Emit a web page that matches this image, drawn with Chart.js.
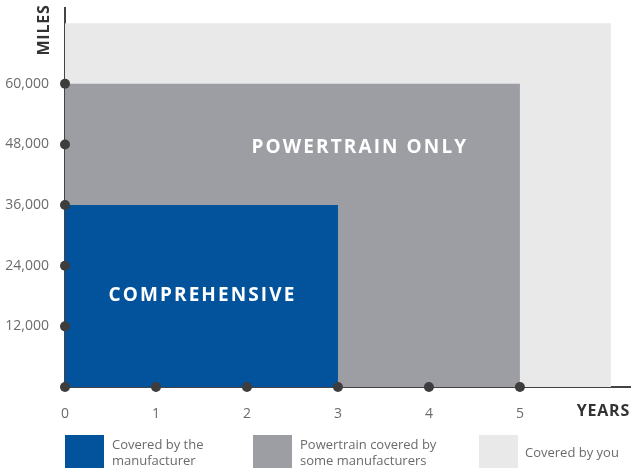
<!DOCTYPE html>
<html>
<head>
<meta charset="utf-8">
<script src="https://cdn.jsdelivr.net/npm/chart.js@4"></script>
<style>
  body { margin: 0; background: #fff; }
  #wrap { position: relative; width: 635px; height: 468px; overflow: hidden; }
  .lg { position: absolute; top: 435px; height: 33px; font: 13px "Open Sans", sans-serif; color: #6b6b6b; line-height: 16px; }
  .lg .box { position: absolute; left: 0; top: 0; width: 39px; height: 33px; }
  .lg .txt { position: absolute; top: 50%; transform: translateY(-50%); white-space: nowrap; }
</style>
</head>
<body>
<div id="wrap">
  <canvas id="warrantyChart" width="635" height="468"></canvas>
</div>
<script>
// Dados do gráfico
const seriesNames = ['Covered by the\nmanufacturer', 'Powertrain covered by\nsome manufacturers', 'Covered by you'];
const coverageYears = [3, 5, 6];
const coverageMiles = [36000, 60000, 72000];
const seriesColors = ['#02529c', '#9d9ea3', '#e9e9e9'];
const yTicks = [0, 12000, 24000, 36000, 48000, 60000];
const xTicks = [0, 1, 2, 3, 4, 5];
const regionLabels = ['COMPREHENSIVE', 'POWERTRAIN ONLY'];

const ctx = document.getElementById('warrantyChart').getContext('2d');

// Retângulos de cobertura (linha horizontal preenchida até a origem)
const regionSets = coverageYears.map((yr, i) => ({
    type: 'line',
    data: [{ x: 0, y: coverageMiles[i] }, { x: yr, y: coverageMiles[i] }],
    backgroundColor: seriesColors[i],
    borderWidth: 0,
    pointRadius: 0,
    fill: 'origin'
}));

// Pontos nos eixos
const dotPoints = xTicks.map(x => ({ x: x, y: 0 }))
    .concat(yTicks.filter(v => v > 0).map(v => ({ x: 0, y: v })));

const textPlugin = {
    id: 'textLabels',
    afterDraw(chart) {
        const c = chart.ctx;
        const xs = chart.scales.x, ys = chart.scales.y, area = chart.chartArea;
        c.save();
        c.textAlign = 'center';
        c.textBaseline = 'middle';
        c.fillStyle = '#ffffff';
        c.font = 'bold 19px "Open Sans", sans-serif';
        c.letterSpacing = '2.1px';
        c.fillText(regionLabels[0], xs.getPixelForValue(1.5) + 1, ys.getPixelForValue(18000));
        c.fillText(regionLabels[1], xs.getPixelForValue(3.23) + 1, ys.getPixelForValue(47400));
        // títulos dos eixos
        c.fillStyle = '#333333';
        c.font = 'bold 16px "Open Sans", sans-serif';
        c.letterSpacing = '0.8px';
        c.textAlign = 'right';
        c.fillText('YEARS', area.right, area.bottom + 24);
        c.translate(area.left - 21, area.top + 22);
        c.rotate(-Math.PI / 2);
        c.textAlign = 'center';
        c.fillText('MILES', 0, 0);
        c.restore();
    }
};

new Chart(ctx, {
    data: {
        datasets: [
            {
                type: 'scatter',
                data: dotPoints,
                pointRadius: 5,
                pointBackgroundColor: '#3d3d3d',
                pointBorderWidth: 0,
                clip: false
            },
            ...regionSets
        ]
    },
    options: {
        responsive: false,
        animation: false,
        layout: { padding: { top: 8, left: 0, right: 0, bottom: 0 } },
        plugins: { legend: { display: false }, tooltip: { enabled: false } },
        scales: {
            x: {
                type: 'linear',
                min: 0,
                max: 6.21,
                z: 1,
                grid: { display: false },
                border: { display: true, color: '#444444', width: 2 },
                afterBuildTicks: s => { s.ticks = xTicks.map(v => ({ value: v })); },
                afterFit: s => { s.height = 81; s.paddingLeft = 0; s.paddingRight = 0; },
                ticks: {
                    padding: 11,
                    color: '#6b6b6b',
                    font: { size: 14, family: '"Open Sans", sans-serif' }
                }
            },
            y: {
                type: 'linear',
                min: 0,
                max: 75000,
                z: 1,
                grid: { display: false },
                border: { display: true, color: '#444444', width: 2 },
                afterBuildTicks: s => { s.ticks = yTicks.filter(v => v > 0).map(v => ({ value: v })); },
                afterFit: s => { s.width = 65; s.paddingTop = 0; s.paddingBottom = 0; },
                ticks: {
                    padding: 8,
                    color: '#6b6b6b',
                    font: { size: 14, family: '"Open Sans", sans-serif' },
                    callback: v => v.toLocaleString('en-US')
                }
            }
        }
    },
    plugins: [textPlugin]
});

// Legenda em HTML
const legendLeft = [65, 253, 479];
const wrap = document.getElementById('wrap');
seriesNames.forEach((name, i) => {
    const item = document.createElement('div');
    item.className = 'lg';
    item.style.left = legendLeft[i] + 'px';
    const box = document.createElement('div');
    box.className = 'box';
    box.style.background = seriesColors[i];
    const txt = document.createElement('div');
    txt.className = 'txt';
    txt.style.left = (i === 2 ? 46 : 47) + 'px';
    txt.innerHTML = name.split('\n').join('<br>');
    item.appendChild(box);
    item.appendChild(txt);
    wrap.appendChild(item);
});
</script>
</body>
</html>
